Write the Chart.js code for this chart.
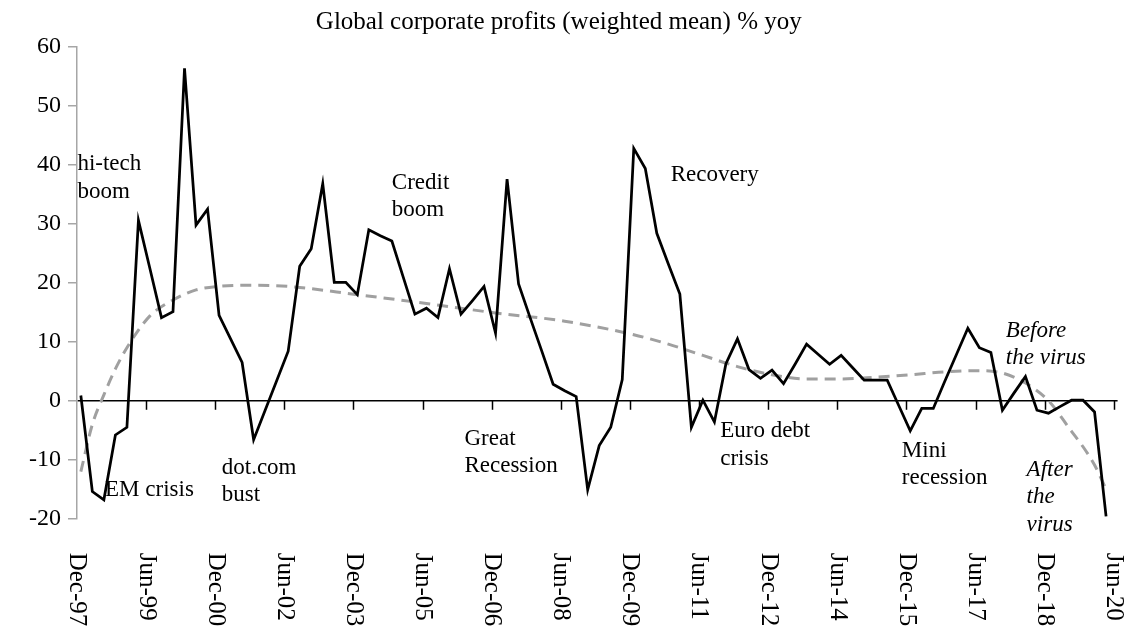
<!DOCTYPE html>
<html>
<head>
<meta charset="utf-8">
<title>Global corporate profits</title>
<script src="https://cdn.jsdelivr.net/npm/chart.js@4.4.1/dist/chart.umd.min.js"></script>
<style>
    html, body { margin: 0; padding: 0; background: #ffffff; }
</style>
</head>
<body>
<canvas id="profitsChart" width="1131" height="629"></canvas>
<script>
// Quarterly observations, Dec-97 .. Mar-20
const quarters = [
    'Dec-97', 'Mar-98', 'Jun-98', 'Sep-98', 'Dec-98', 'Mar-99', 'Jun-99', 'Sep-99', 'Dec-99', 'Mar-00',
    'Jun-00', 'Sep-00', 'Dec-00', 'Mar-01', 'Jun-01', 'Sep-01', 'Dec-01', 'Mar-02', 'Jun-02', 'Sep-02',
    'Dec-02', 'Mar-03', 'Jun-03', 'Sep-03', 'Dec-03', 'Mar-04', 'Jun-04', 'Sep-04', 'Dec-04', 'Mar-05',
    'Jun-05', 'Sep-05', 'Dec-05', 'Mar-06', 'Jun-06', 'Sep-06', 'Dec-06', 'Mar-07', 'Jun-07', 'Sep-07',
    'Dec-07', 'Mar-08', 'Jun-08', 'Sep-08', 'Dec-08', 'Mar-09', 'Jun-09', 'Sep-09', 'Dec-09', 'Mar-10',
    'Jun-10', 'Sep-10', 'Dec-10', 'Mar-11', 'Jun-11', 'Sep-11', 'Dec-11', 'Mar-12', 'Jun-12', 'Sep-12',
    'Dec-12', 'Mar-13', 'Jun-13', 'Sep-13', 'Dec-13', 'Mar-14', 'Jun-14', 'Sep-14', 'Dec-14', 'Mar-15',
    'Jun-15', 'Sep-15', 'Dec-15', 'Mar-16', 'Jun-16', 'Sep-16', 'Dec-16', 'Mar-17', 'Jun-17', 'Sep-17',
    'Dec-17', 'Mar-18', 'Jun-18', 'Sep-18', 'Dec-18', 'Mar-19', 'Jun-19', 'Sep-19', 'Dec-19', 'Mar-20'
];

const profits = [
    0.9, -15.4, -16.8, -5.8, -4.5, 30.6, 22.4, 14.1, 15.1, 56.4,
    29.8, 32.5, 14.5, 10.5, 6.5, -6.6, -1.6, 3.4, 8.4, 22.8,
    25.8, 36.8, 20.1, 20.1, 18.0, 29.0, 28.0, 27.1, 20.9, 14.7,
    15.7, 14.1, 22.4, 14.7, 17.0, 19.4, 11.5, 37.6, 19.8, 14.1,
    8.5, 2.8, 1.7, 0.7, -15.1, -7.6, -4.5, 3.6, 42.8, 39.4,
    28.4, 23.2, 18.1, -4.5, 0.1, -3.6, 6.3, 10.5, 5.3, 3.8,
    5.2, 2.9, 6.2, 9.6, 7.9, 6.2, 7.7, 5.6, 3.5, 3.5,
    3.5, -0.8, -5.1, -1.3, -1.3, 3.3, 7.8, 12.3, 9.0, 8.2,
    -1.6, 1.3, 4.1, -1.6, -2.1, -1.0, 0.1, 0.1, -1.9, -19.6
];

// Trend curve
const trendQuarters = [
    'Dec-97', 'Mar-98', 'Jun-98', 'Sep-98', 'Dec-98', 'Jun-99', 'Dec-99', 'Jun-00', 'Dec-00', 'Sep-01',
    'Jun-02', 'Dec-03', 'Jun-05', 'Dec-06', 'Jun-08', 'Dec-09', 'Sep-10', 'Jun-11', 'Mar-12', 'Dec-12',
    'Sep-13', 'Jun-14', 'Mar-15', 'Dec-15', 'Sep-16', 'Jun-17', 'Dec-17', 'Jun-18', 'Dec-18', 'Jun-19',
    'Sep-19', 'Dec-19', 'Mar-20'
];
const trendValues = [
    -12.0, -4.0, 1.0, 5.4, 9.0, 14.4, 17.1, 18.8, 19.4, 19.6,
    19.4, 18.0, 16.5, 14.9, 13.5, 11.2, 9.6, 7.7, 5.8, 4.4,
    3.7, 3.7, 4.0, 4.4, 4.9, 5.1, 4.7, 3.0, 0.0, -5.2,
    -7.8, -10.9, -15.0
];

const tickLabels = [
    'Dec-97', 'Jun-99', 'Dec-00', 'Jun-02', 'Dec-03', 'Jun-05', 'Dec-06', 'Jun-08',
    'Dec-09', 'Jun-11', 'Dec-12', 'Jun-14', 'Dec-15', 'Jun-17', 'Dec-18', 'Jun-20'
];

// Text notes, anchored in chart units (months since Dec-97, % yoy of first baseline)
const notes = [
    { lines: ['hi-tech', 'boom'], month: 0.1, value: 39.1 },
    { lines: ['EM crisis'], month: 7.3, value: -16.2 },
    { lines: ['dot.com', 'bust'], month: 37.7, value: -12.4 },
    { lines: ['Credit', 'boom'], month: 82.0, value: 36.0 },
    { lines: ['Great', 'Recession'], month: 100.9, value: -7.5 },
    { lines: ['Recovery'], month: 154.6, value: 37.2 },
    { lines: ['Euro debt', 'crisis'], month: 167.5, value: -6.2 },
    { lines: ['Mini', 'recession'], month: 214.8, value: -9.5 },
    { lines: ['Before', 'the virus'], month: 241.9, value: 10.9, italic: true },
    { lines: ['After', 'the', 'virus'], month: 247.3, value: -12.7, italic: true }
];

const FONT = '"Liberation Serif", "Times New Roman", serif';
const MONTHS = ['Jan', 'Feb', 'Mar', 'Apr', 'May', 'Jun', 'Jul', 'Aug', 'Sep', 'Oct', 'Nov', 'Dec'];

// months since 1 Dec 1997
function monthIndex(label) {
    const [mon, yy] = label.split('-');
    const year = Number(yy) > 50 ? 1900 + Number(yy) : 2000 + Number(yy);
    return (year - 1997) * 12 + MONTHS.indexOf(mon) - 11;
}

// quarterly figures are month-end, so they sit one month past the tick
const profitPoints = quarters.map((q, i) => ({ x: monthIndex(q) + 1, y: profits[i] }));
const trendPoints = trendQuarters.map((q, i) => ({ x: monthIndex(q) + 1, y: trendValues[i] }));

const chartExtras = {
    id: 'chartExtras',
    beforeDatasetsDraw(chart) {
        const ctx = chart.ctx;
        const xs = chart.scales.x;
        const ys = chart.scales.y;
        const y0 = ys.getPixelForValue(0);
        ctx.save();
        ctx.strokeStyle = '#000000';
        ctx.lineWidth = 1.5;
        tickLabels.forEach(label => {
            const m = monthIndex(label);
            if (m <= 0) return;
            const x = Math.round(xs.getPixelForValue(m)) + 0.5;
            ctx.beginPath();
            ctx.moveTo(x, y0);
            ctx.lineTo(x, y0 + 9);
            ctx.stroke();
        });
        ctx.restore();
    },
    afterDraw(chart) {
        const ctx = chart.ctx;
        const xs = chart.scales.x;
        const ys = chart.scales.y;
        ctx.save();
        ctx.fillStyle = '#000000';

        // rotated date labels, reading top to bottom
        ctx.font = '25px ' + FONT;
        ctx.textAlign = 'left';
        ctx.textBaseline = 'middle';
        tickLabels.forEach(label => {
            const x = xs.getPixelForValue(monthIndex(label));
            ctx.save();
            ctx.translate(x, ys.bottom + 34);
            ctx.rotate(Math.PI / 2);
            ctx.fillText(label, 0, 0);
            ctx.restore();
        });

        ctx.textBaseline = 'alphabetic';
        notes.forEach(note => {
            ctx.font = (note.italic ? 'italic ' : '') + '23px ' + FONT;
            const x = xs.getPixelForValue(note.month);
            const y = ys.getPixelForValue(note.value);
            note.lines.forEach((line, k) => {
                ctx.fillText(line, x, y + k * 27.5);
            });
        });
        ctx.restore();
    }
};

const profitsCtx = document.getElementById('profitsChart').getContext('2d');
const profitsChart = new Chart(profitsCtx, {
    type: 'line',
    data: {
        datasets: [{
            label: 'Profits % yoy',
            data: profitPoints,
            borderColor: '#000000',
            borderWidth: 2.75,
            pointRadius: 0,
            tension: 0,
            fill: false,
            order: 0
        }, {
            label: 'Trend',
            data: trendPoints,
            borderColor: '#a0a0a0',
            borderWidth: 3,
            borderDash: [11, 7],
            pointRadius: 0,
            cubicInterpolationMode: 'monotone',
            fill: false,
            order: 1
        }]
    },
    options: {
        responsive: false,
        animation: false,
        devicePixelRatio: 1,
        layout: {
            padding: { left: 0, right: 13.4, top: 0, bottom: 0 }
        },
        plugins: {
            legend: { display: false },
            tooltip: { enabled: false },
            title: {
                display: true,
                text: 'Global corporate profits (weighted mean) % yoy',
                color: '#000000',
                font: { family: FONT, size: 25, weight: 'normal' },
                padding: { top: 7, bottom: 10 }
            }
        },
        scales: {
            x: {
                type: 'linear',
                min: 0,
                max: 271,
                ticks: { display: false },
                grid: { display: false },
                border: { display: false },
                afterFit: function (scale) {
                    scale.height = 110.3;
                }
            },
            y: {
                min: -20,
                max: 60,
                ticks: {
                    stepSize: 10,
                    padding: 7,
                    color: '#000000',
                    font: { family: FONT, size: 24 }
                },
                grid: {
                    color: ctx => (ctx.tick && ctx.tick.value === 0 ? '#000000' : 'rgba(0,0,0,0)'),
                    lineWidth: 1.5,
                    tickColor: '#a6a6a6',
                    tickLength: 9,
                    tickWidth: 1.5
                },
                border: { color: '#a6a6a6', width: 1.5 },
                afterFit: function (scale) {
                    scale.width = 77;
                }
            }
        }
    },
    plugins: [chartExtras]
});
</script>
</body>
</html>
